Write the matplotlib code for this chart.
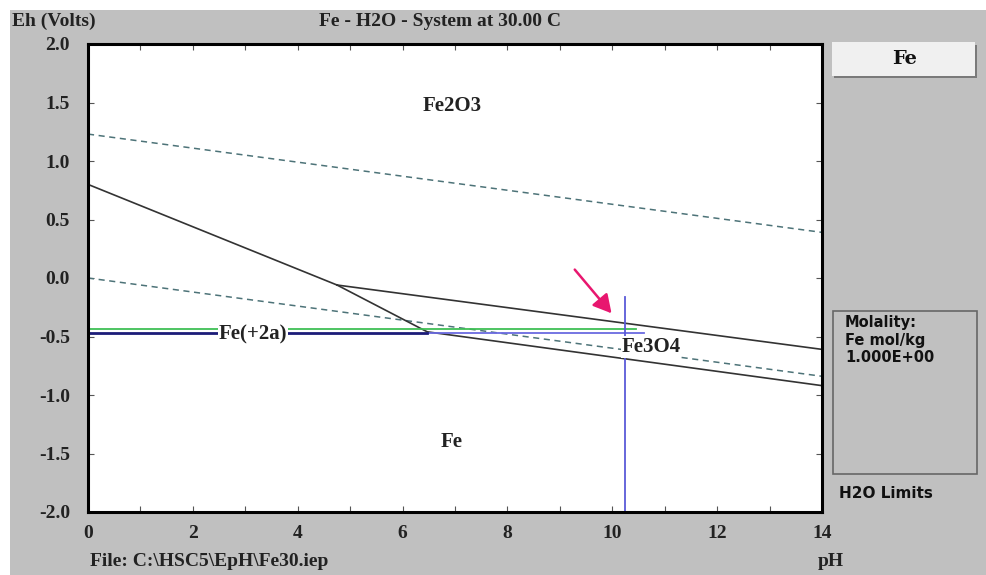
import matplotlib
matplotlib.use("Agg")
import matplotlib.pyplot as plt
from matplotlib.patches import Rectangle, FancyArrowPatch

# Stability boundaries (pH, Eh)
o2_ph, o2_eh = [0, 14], [1.23, 0.39]          # upper water limit (dashed)
h2_ph, h2_eh = [0, 14], [0.0, -0.84]           # lower water limit (dashed)
fe2o3_fe2_ph, fe2o3_fe2_eh = [0, 4.75], [0.80, -0.06]
fe3o4_fe2_ph, fe3o4_fe2_eh = [4.75, 6.47], [-0.06, -0.46]
fe2o3_fe3o4_ph, fe2o3_fe3o4_eh = [4.75, 14], [-0.06, -0.61]
fe3o4_fe_ph, fe3o4_fe_eh = [6.47, 14], [-0.46, -0.92]
fe_fe2_ph, fe_fe2_eh = [0, 6.47], [-0.47, -0.47]
blue_ext_ph, blue_ext_eh = [6.47, 10.6], [-0.47, -0.47]
green_ph, green_eh = [0, 10.45], [-0.435, -0.435]
vert_ph, vert_eh = [10.25, 10.25], [-0.16, -2.0]
arrow_from, arrow_to = (9.25, 0.09), (10.02, -0.32)

region_labels = ["Fe2O3", "Fe(+2a)", "Fe3O4", "Fe"]
label_ph = [6.94, 3.15, 10.74, 6.94]
label_eh = [1.47, -0.485, -0.59, -1.40]

W, H = 986, 575
fig = plt.figure(figsize=(W / 100, H / 100), dpi=100, facecolor="white")

def fx(px):
    return px / W

def fy(py):
    return 1 - py / H

gray = "#c0c0c0"
fig.patches.append(Rectangle((fx(10), 0), 1 - fx(10), fy(10), transform=fig.transFigure,
                             facecolor=gray, edgecolor="none", zorder=-10))

serif = "Liberation Serif"
sans = "DejaVu Sans"
fs = 14

ax = fig.add_axes([fx(88), fy(512), fx(822) - fx(88), fy(44) - fy(512)])
ax.set_xlim(0, 14)
ax.set_ylim(-2, 2)
ax.set_facecolor("white")

dash_c = "#4d7378"
line_c = "#333333"
ax.plot(o2_ph, o2_eh, color=dash_c, lw=1.1, ls=(0, (4, 3)))
ax.plot(h2_ph, h2_eh, color=dash_c, lw=1.1, ls=(0, (4, 3)))
for xs, ys in [(fe2o3_fe2_ph, fe2o3_fe2_eh), (fe3o4_fe2_ph, fe3o4_fe2_eh),
               (fe2o3_fe3o4_ph, fe2o3_fe3o4_eh), (fe3o4_fe_ph, fe3o4_fe_eh)]:
    ax.plot(xs, ys, color=line_c, lw=1.2)
ax.plot(green_ph, green_eh, color="#3fbf55", lw=1.3)
ax.plot(blue_ext_ph, blue_ext_eh, color="#6a6ae0", lw=1.3)
ax.plot(fe_fe2_ph, fe_fe2_eh, color="#1c1c78", lw=2.0)
ax.plot(vert_ph, vert_eh, color="#5a5ad8", lw=1.3)

for t, x, y in zip(region_labels, label_ph, label_eh):
    ax.text(x, y, t, ha="center", va="center", fontsize=15, fontweight="bold",
            family=serif, color="#222222",
            bbox=dict(facecolor="white", edgecolor="none", pad=0.5) if t in ("Fe(+2a)", "Fe3O4") else None,
            zorder=5)

ax.add_patch(FancyArrowPatch(arrow_from, arrow_to, arrowstyle="-|>,head_length=11,head_width=6",
                             color="#e8176f", lw=1.8, zorder=6))

ax.set_xticks(range(0, 15))
ax.set_xticklabels([str(i) if i % 2 == 0 else "" for i in range(0, 15)])
ax.set_yticks([-2.0, -1.5, -1.0, -0.5, 0.0, 0.5, 1.0, 1.5, 2.0])
ax.set_yticklabels(["-2.0", "-1.5", "-1.0", "-0.5", "0.0", "0.5", "1.0", "1.5", "2.0"])
ax.tick_params(direction="in", length=4, width=0.8, color="#555555",
               top=True, right=True, labelsize=fs)
ax.tick_params(axis="x", pad=9)
ax.tick_params(axis="y", pad=13)
for lab in ax.get_xticklabels() + ax.get_yticklabels():
    lab.set_family(serif)
    lab.set_fontweight("bold")
    lab.set_color("#222222")
for s in ax.spines.values():
    s.set_linewidth(2.2)
    s.set_color("black")

tkw = dict(family=serif, fontweight="bold", fontsize=fs, color="#222222", va="center")
fig.text(fx(12), fy(21), "Eh (Volts)", ha="left", **tkw)
fig.text(fx(440), fy(21), "Fe - H2O - System at 30.00 C", ha="center", **tkw)
fig.text(fx(90), fy(562), "File: C:\\HSC5\\EpH\\Fe30.iep", ha="left", **tkw)
fig.text(fx(818), fy(562), "pH", ha="left", **tkw)

# right side panel
fig.patches.append(Rectangle((fx(834), fy(78)), fx(977) - fx(834), fy(45) - fy(78),
                             transform=fig.transFigure, facecolor="#7a7a7a", edgecolor="none"))
fig.patches.append(Rectangle((fx(832), fy(76)), fx(975) - fx(832), fy(42) - fy(76),
                             transform=fig.transFigure, facecolor="#f0f0f0", edgecolor="none"))
fig.text(fx(905), fy(59), "Fe", ha="center", va="center", family="DejaVu Serif",
         fontweight="bold", fontsize=14, color="#111111")

fig.patches.append(Rectangle((fx(833), fy(474)), fx(977) - fx(833), fy(311) - fy(474),
                             transform=fig.transFigure, facecolor=gray, edgecolor="#666666", lw=1.2))
skw = dict(family=sans, fontweight="bold", fontsize=10.5, color="#111111", va="center", ha="left")
fig.text(fx(845), fy(322), "Molality:", **skw)
fig.text(fx(845), fy(340), "Fe mol/kg", **skw)
fig.text(fx(845), fy(357), "1.000E+00", **skw)
fig.text(fx(839), fy(493), "H2O Limits", fontsize=11,
         **{k: v for k, v in skw.items() if k != "fontsize"})

fig.savefig("out.png", dpi=100, facecolor=fig.get_facecolor())
